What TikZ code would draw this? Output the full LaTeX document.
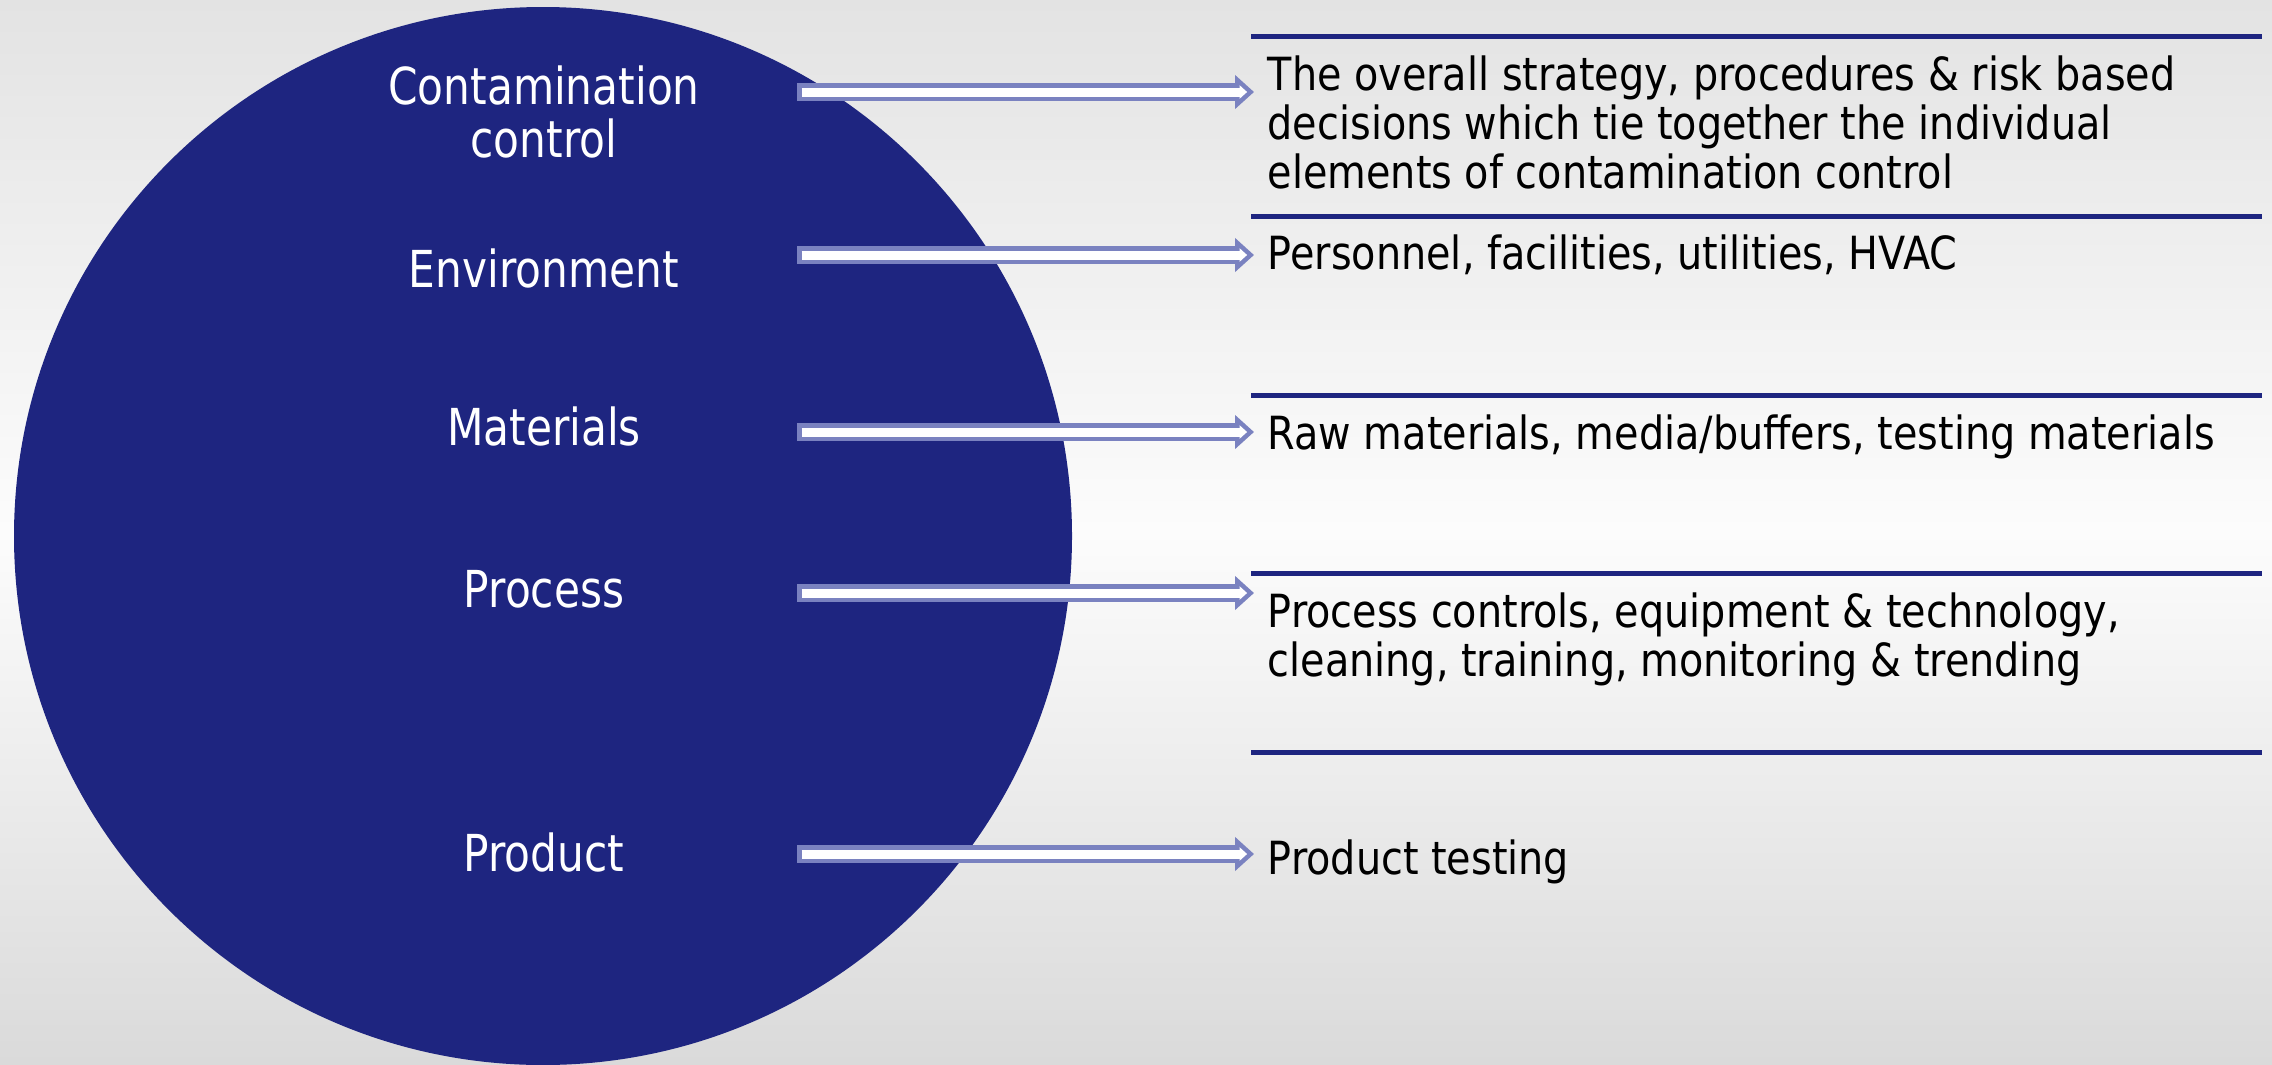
\documentclass[tikz,border=0pt]{standalone}
\usepackage{fontspec}
\setmainfont[FakeStretch=0.83]{DejaVu Sans}
\newfontfamily\detailfont[FakeStretch=0.87]{DejaVu Sans}
\usetikzlibrary{arrows.meta}
\definecolor{navy}{RGB}{30,37,128}
\definecolor{arrowline}{RGB}{122,130,192}
\definecolor{bgtop}{RGB}{227,227,227}
\definecolor{bgmid}{RGB}{252,252,252}
\definecolor{bgbot}{RGB}{218,218,218}
\tikzset{
  topic/.style={text=white, font=\fontsize{14.5}{14.8}\selectfont, align=center, anchor=base, inner sep=0pt},
  detail/.style={text=black, font=\detailfont\fontsize{13}{13.9}\selectfont, align=left, anchor=base west, inner sep=0pt},
  rulebar/.style={draw=navy, line width=0.05cm},
  flowout/.style={draw=arrowline, line width=0.18cm, -{Triangle[length=0.19cm,width=0.33cm]}},
  flowin/.style={draw=white, line width=0.09cm, shorten <=0.045cm, shorten >=0.069cm, -{Triangle[length=0.076cm,width=0.132cm]}},
}

\begin{document}
\begin{tikzpicture}

 \shade[top color=bgtop, bottom color=bgbot, middle color=bgmid] (0,0) rectangle (22.72,10.64);
 \useasboundingbox (0,0) rectangle (22.72,10.64);

 \begin{scope}
  \clip (0,0) rectangle (22.72,10.64);
  \fill[navy] (5.43,5.28) circle (5.29);
 \end{scope}

 % topics inside the disc
 \node[topic] (cc) at (5.44,9.07) {Contamination\\control};
 \node[topic] (env) at (5.44,7.77) {Environment};
 \node[topic] (mat) at (5.44,6.19) {Materials};
 \node[topic] (proc) at (5.44,4.57) {Process};
 \node[topic] (prod) at (5.44,1.93) {Product};

 % separators on the right
 \foreach \y in {10.28,8.48,6.69,4.91,3.12}
  \draw[rulebar] (12.51,\y) -- (22.62,\y);

 \node[detail] (ccd) at (12.67,8.76) {The overall strategy, procedures \& risk based\\decisions which tie together the individual\\elements of contamination control};
 \node[detail] (envd) at (12.67,7.95) {Personnel, facilities, utilities, HVAC};
 \node[detail] (matd) at (12.67,6.15) {Raw materials, media/buffers, testing materials};
 \node[detail] (procd) at (12.67,3.88) {Process controls, equipment \& technology,\\cleaning, training, monitoring \& trending};
 \node[detail] (prodd) at (12.67,1.90) {Product testing};

 % hollow arrows: coloured body, then the white core
 \foreach \y [count=\i] in {9.72,8.09,6.32,4.71,2.10} {
  \coordinate (s\i) at (7.97,\y);
  \coordinate (t\i) at (12.54,\y);
  \draw[flowout] (s\i) -- (t\i);
  \draw[flowin] (s\i) -- (t\i);
 }

\end{tikzpicture}
\end{document}
